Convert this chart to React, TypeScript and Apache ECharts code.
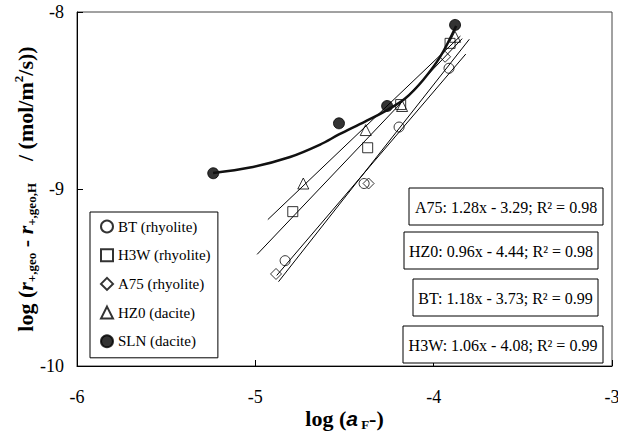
import React, { useEffect, useRef } from 'react';
import * as echarts from 'echarts';

// ---- data ----
const btX = [-4.833, -4.39, -4.194, -3.914];
const btY = [-9.405, -8.969, -8.65, -8.318];
const h3wX = [-4.79, -4.37, -4.185, -3.908];
const h3wY = [-9.128, -8.767, -8.523, -8.177];
const a75X = [-4.884, -4.365, -3.936];
const a75Y = [-9.48, -8.969, -8.253];
const hz0X = [-4.731, -4.381, -4.177, -3.88];
const hz0Y = [-8.969, -8.667, -8.531, -8.14];
const slnX = [-5.236, -4.531, -4.261, -3.88];
const slnY = [-8.911, -8.629, -8.531, -8.073];

// SLN trend curve
const slnCurveX = [-5.237, -5.03, -4.805, -4.637, -4.531, -4.385, -4.261, -4.16, -4.059, -3.964, -3.874];
const slnCurveY = [-8.91, -8.879, -8.819, -8.749, -8.692, -8.619, -8.554, -8.489, -8.384, -8.254, -8.079];

// fitted lines (equations as printed)
const fitNames = ['A75', 'HZ0', 'BT', 'H3W'];
const fitSlopes = [1.28, 0.96, 1.18, 1.06];
const fitIntercepts = [-3.29, -4.44, -3.73, -4.08];
const fitR2 = ['0.98', '0.98', '0.99', '0.99'];
const fitXStart = [-4.87, -4.93, -4.88, -4.99];
const fitXEnd = [-3.8, -3.85, -3.82, -3.84];

const legendNames = ['BT (rhyolite)', 'H3W (rhyolite)', 'A75 (rhyolite)', 'HZ0 (dacite)', 'SLN (dacite)'];

const SERIF = '"Liberation Serif", "Times New Roman", Times, serif';

const zip = (xs: number[], ys: number[]) => xs.map((x, i) => [x, ys[i]]);

export default function App() {
  const ref = useRef<HTMLDivElement>(null);
  useEffect(() => {
    if (!ref.current) return;
    const chart = echarts.init(ref.current, undefined, { renderer: 'svg' });

    const openStyle = { color: 'transparent', borderColor: '#000', borderWidth: 1 };

    const fitSeries = fitNames.map((n, i) => ({
      type: 'line',
      name: n + ' fit',
      data: [fitXStart[i], fitXEnd[i]].map((x) => [x, fitSlopes[i] * x + fitIntercepts[i]]),
      showSymbol: false,
      symbol: 'none',
      lineStyle: { color: '#000', width: 1 },
      silent: true,
    }));

    const boxes = [
      { x: 409, y: 188, w: 194, h: 37 },
      { x: 404, y: 232, w: 194, h: 37 },
      { x: 413, y: 279, w: 185, h: 37 },
      { x: 403, y: 326, w: 200, h: 37 },
    ];
    const eqGraphics: any[] = [];
    fitNames.forEach((n, i) => {
      const b = boxes[i];
      const label = `${n}: ${fitSlopes[i].toFixed(2)}x - ${Math.abs(fitIntercepts[i]).toFixed(2)}; R\u00B2 = ${fitR2[i]}`;
      eqGraphics.push({
        type: 'rect',
        shape: { x: b.x, y: b.y, width: b.w, height: b.h },
        style: { fill: '#fff', stroke: '#000', lineWidth: 1 },
        z: 100,
      });
      eqGraphics.push({
        type: 'text',
        x: b.x + b.w / 2,
        y: b.y + b.h / 2 + 1,
        style: {
          text: label,
          textAlign: 'center',
          textVerticalAlign: 'middle',
          font: `16px ${SERIF}`,
          fill: '#000',
        },
        z: 101,
      });
    });

    const bold = { fontFamily: SERIF, fontWeight: 'bold', fontSize: 22, lineHeight: 26, color: '#000' };
    const sub = { fontFamily: SERIF, fontWeight: 'bold', fontSize: 13, lineHeight: 14, verticalAlign: 'bottom', color: '#000' };
    const sup = { fontFamily: SERIF, fontWeight: 'bold', fontSize: 13, lineHeight: 14, verticalAlign: 'top', color: '#000' };

    chart.setOption({
      animation: false,
      backgroundColor: '#fff',
      grid: {
        left: 77, right: 6, top: 12, bottom: 65,
        containLabel: false, outerBoundsMode: 'none',
        show: true, borderColor: '#444', borderWidth: 1,
      },
      xAxis: {
        type: 'value',
        min: -6,
        max: -3,
        interval: 1,
        axisLine: { lineStyle: { color: '#000', width: 1 } },
        axisTick: { inside: true, length: 6, lineStyle: { color: '#000' } },
        splitLine: { show: false },
        axisLabel: { fontFamily: SERIF, fontSize: 18, color: '#000', margin: 22 },
        name: '{b|log (}{ai|a}{sub| F}{b|-)}',
        nameLocation: 'middle',
        nameGap: 39,
        nameMoveOverlap: false,
        nameTextStyle: {
          rich: {
            b: bold,
            ai: { fontFamily: '"Liberation Sans", Arial, sans-serif', fontWeight: 'bold', fontStyle: 'italic', fontSize: 21, lineHeight: 26, color: '#000' },
            sub,
          },
        },
      },
      yAxis: {
        type: 'value',
        min: -10,
        max: -8,
        interval: 1,
        axisLine: { lineStyle: { color: '#000', width: 1 } },
        axisTick: { inside: true, length: 6, lineStyle: { color: '#000' } },
        splitLine: { show: false },
        axisLabel: { fontFamily: SERIF, fontSize: 18, color: '#000', margin: 13 },
        name: '{b|log (}{ri|r}{sub|+,geo}{b| - }{ri|r}{sub|+,geo,H}{b|    / (mol/m}{sup|2}{b|/s))}',
        nameLocation: 'middle',
        nameRotate: 90,
        nameGap: 39,
        nameMoveOverlap: false,
        nameTextStyle: {
          rich: {
            b: bold,
            ri: { fontFamily: SERIF, fontWeight: 'bold', fontStyle: 'italic', fontSize: 22, lineHeight: 26, color: '#000' },
            sub,
            sup,
          },
        },
      },
      legend: {
        data: legendNames,
        orient: 'vertical',
        left: 90,
        top: 212,
        itemWidth: 12,
        itemHeight: 12,
        itemGap: 13.7,
        padding: [7, 7, 9, 10],
        borderColor: '#000',
        borderWidth: 1,
        backgroundColor: '#fff',
        selectedMode: false,
        textStyle: { fontFamily: SERIF, fontSize: 15, color: '#000', lineHeight: 15 },
      },
      graphic: eqGraphics,
      series: [
        ...fitSeries,
        {
          type: 'line',
          name: 'SLN curve',
          data: zip(slnCurveX, slnCurveY),
          smooth: 0.35,
          showSymbol: false,
          symbol: 'none',
          lineStyle: { color: '#111', width: 2.5 },
          silent: true,
        },
        { type: 'scatter', name: legendNames[0], data: zip(btX, btY), symbol: 'circle', symbolSize: 10, itemStyle: openStyle },
        { type: 'scatter', name: legendNames[1], data: zip(h3wX, h3wY), symbol: 'rect', symbolSize: 10, itemStyle: openStyle },
        { type: 'scatter', name: legendNames[2], data: zip(a75X, a75Y), symbol: 'diamond', symbolSize: 11, itemStyle: openStyle },
        { type: 'scatter', name: legendNames[3], data: zip(hz0X, hz0Y), symbol: 'triangle', symbolSize: 11, itemStyle: openStyle },
        { type: 'scatter', name: legendNames[4], data: zip(slnX, slnY), symbol: 'circle', symbolSize: 11, itemStyle: { color: '#000', borderColor: '#000', borderWidth: 1 } },
      ],
    });
    return () => chart.dispose();
  }, []);
  return <div ref={ref} style={{ position: 'fixed', left: 0, top: 0, width: 618, height: 431 }} />;
}
